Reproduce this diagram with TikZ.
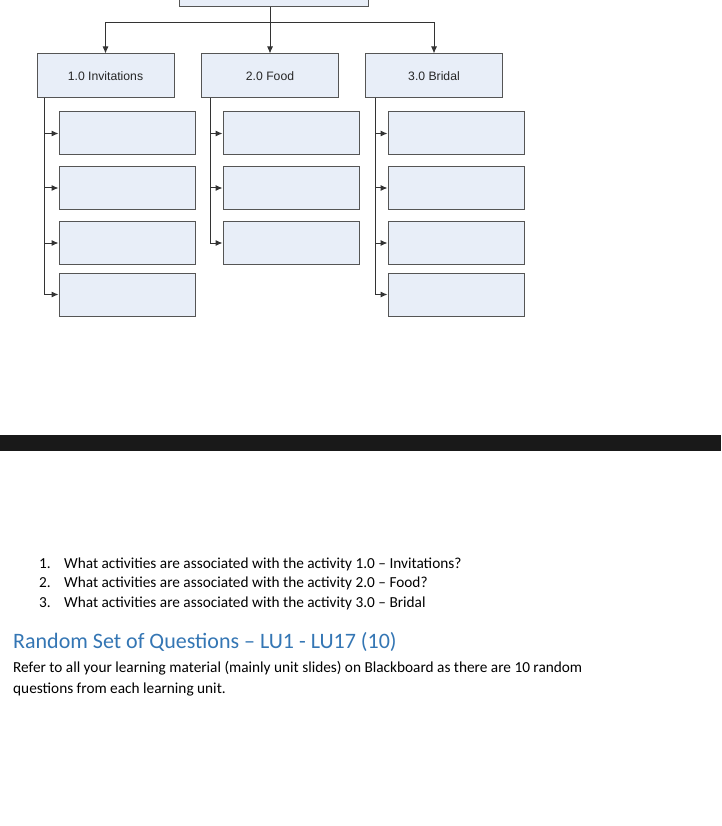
\documentclass[tikz,border=0pt]{standalone}
\usepackage{fontspec}
\setmainfont{Carlito}
\newfontfamily\wbsfont{Liberation Sans}
\usetikzlibrary{arrows.meta}
\definecolor{boxfill}{RGB}{232,238,248}
\definecolor{boxline}{RGB}{85,85,85}
\definecolor{headblue}{RGB}{52,118,180}
\tikzset{
  wbs/.style={draw=boxline, line width=1pt, fill=boxfill, minimum width=137pt, minimum height=44pt, inner sep=0pt, font=\wbsfont\fontsize{12.2}{14}\selectfont, text=black!85},
  task/.style={wbs, minimum width=136pt, minimum height=43pt},
  link/.style={draw=black!80, line width=1pt},
  arr/.style={link, -{Latex[length=7pt,width=6pt]}},
  txt/.style={inner sep=0pt, anchor=base west, font=\fontsize{15.3}{19}\selectfont}
}
\begin{document}
\begin{tikzpicture}[x=1pt,y=-1pt]
\useasboundingbox[fill=white] (0,0) rectangle (721,826);
% top level
\node[wbs, minimum width=189pt] (root) at (273.5,-15) {};
\node[wbs] (inv) at (105.5,76) {1.0 Invitations};
\node[wbs] (food) at (270,76) {2.0 Food};
\node[wbs] (bridal) at (434,76) {3.0 Bridal};
\coordinate (bus) at (270,22.5);
\draw[link] (inv.north |- bus) -- (bridal.north |- bus);
\draw[arr] (food.north |- root.south) -- (food.north);
\draw[arr] (inv.north |- bus) -- (inv.north);
\draw[arr] (bridal.north |- bus) -- (bridal.north);
% invitations
\node[task] (inv1) at (127,133.5) {};
\node[task] (inv2) at (127,188) {};
\node[task] (inv3) at (127,243) {};
\node[task] (inv4) at (127,294.5) {};
\coordinate (invt) at (44,98);
\draw[arr] (invt) |- (inv1.west);
\draw[arr] (invt) |- (inv2.west);
\draw[arr] (invt) |- (inv3.west);
\draw[arr] (invt) |- (inv4.west);
% food
\node[task] (food1) at (291,133.5) {};
\node[task] (food2) at (291,188) {};
\node[task] (food3) at (291,243) {};
\coordinate (foodt) at (210,98);
\draw[arr] (foodt) |- (food1.west);
\draw[arr] (foodt) |- (food2.west);
\draw[arr] (foodt) |- (food3.west);
% bridal
\node[task] (bridal1) at (456,133.5) {};
\node[task] (bridal2) at (456,188) {};
\node[task] (bridal3) at (456,243) {};
\node[task] (bridal4) at (456,294.5) {};
\coordinate (bridalt) at (375,98);
\draw[arr] (bridalt) |- (bridal1.west);
\draw[arr] (bridalt) |- (bridal2.west);
\draw[arr] (bridalt) |- (bridal3.west);
\draw[arr] (bridalt) |- (bridal4.west);
% page break bar
\fill[black!90] (0,435) rectangle (721,451);
% questions
\node[txt] (n1) at (39,568) {1.};
\node[txt] (q1) at (64,568) {What activities are associated with the activity 1.0 – Invitations?};
\node[txt] (n2) at (39,587.5) {2.};
\node[txt] (q2) at (64,587.5) {What activities are associated with the activity 2.0 – Food?};
\node[txt] (n3) at (39,607) {3.};
\node[txt] (q3) at (64,607) {What activities are associated with the activity 3.0 – Bridal};
\node[txt, font=\fontsize{22}{24}\selectfont, text=headblue] (head) at (13,648) {Random Set of Questions – LU1 - LU17 (10)};
\node[txt] (p1) at (13,672) {Refer to all your learning material (mainly unit slides) on Blackboard as there are 10 random};
\node[txt] (p2) at (13,693) {questions from each learning unit.};
\end{tikzpicture}
\end{document}
